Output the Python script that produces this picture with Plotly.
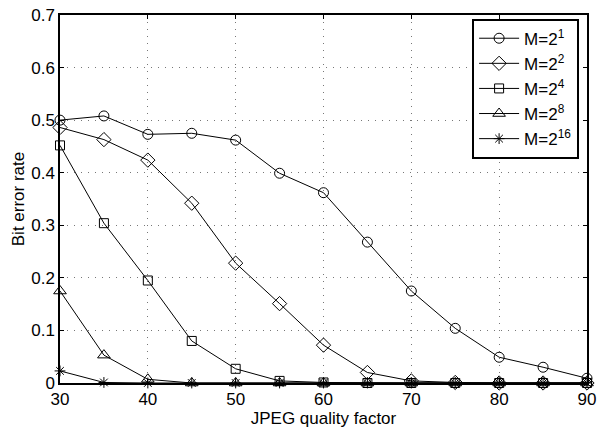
import plotly.graph_objects as go

quality = [30, 35, 40, 45, 50, 55, 60, 65, 70, 75, 80, 85, 90]

ber_m2 = [0.500, 0.508, 0.473, 0.475, 0.462, 0.399, 0.362, 0.268, 0.175, 0.104, 0.049, 0.030, 0.009]
ber_m4 = [0.486, 0.463, 0.424, 0.342, 0.228, 0.151, 0.072, 0.020, 0.004, 0.001, 0.000, 0.000, 0.000]
ber_m16 = [0.452, 0.304, 0.195, 0.080, 0.027, 0.004, 0.001, 0.000, 0.000, 0.000, 0.000, 0.000, 0.000]
ber_m256 = [0.175, 0.053, 0.007, 0.000, 0.000, 0.000, 0.000, 0.000, 0.000, 0.000, 0.000, 0.000, 0.000]
ber_m65536 = [0.023, 0.001, 0.000, 0.000, 0.000, 0.000, 0.000, 0.000, 0.000, 0.000, 0.000, 0.000, 0.000]

series = [
    ("M=2<sup>1</sup>", ber_m2, "circle-open", 10),
    ("M=2<sup>2</sup>", ber_m4, "diamond-open", 11),
    ("M=2<sup>4</sup>", ber_m16, "square-open", 9),
    ("M=2<sup>8</sup>", ber_m256, "triangle-up-open", 11),
    ("M=2<sup>16</sup>", ber_m65536, "asterisk-open", 9),
]

x_ticks = [30, 40, 50, 60, 70, 80, 90]
y_ticks = [0, 0.1, 0.2, 0.3, 0.4, 0.5, 0.6, 0.7]
y_tick_text = ["0", "0.1", "0.2", "0.3", "0.4", "0.5", "0.6", "0.7"]

fig = go.Figure()
for name, vals, sym, size in series:
    fig.add_trace(go.Scatter(
        x=quality, y=vals, name=name, mode="lines+markers",
        line=dict(color="black", width=1),
        marker=dict(symbol=sym, size=size, color="black", line=dict(width=1, color="black")),
        cliponaxis=False,
    ))

font = "Liberation Sans, Arial, Helvetica, sans-serif"
tick_font = dict(size=17, color="black", family=font)
axis_common = dict(
    showline=True, linecolor="black", linewidth=1.5, mirror="ticks",
    ticks="inside", ticklen=4, tickcolor="black",
    showgrid=True, gridcolor="#777", gridwidth=1, griddash="1px,6px",
    zeroline=False, tickfont=tick_font, automargin=False,
)

fig.update_xaxes(range=[30, 90], tickvals=x_ticks,
                 title=dict(text="JPEG quality factor", font=tick_font, standoff=4),
                 **axis_common)
fig.update_yaxes(range=[0, 0.7], tickvals=y_ticks, ticktext=y_tick_text,
                 title=dict(text="Bit error rate", font=tick_font, standoff=2),
                 **axis_common)

fig.update_layout(
    width=600, height=432,
    margin=dict(l=60, r=13, t=15, b=49),
    paper_bgcolor="white", plot_bgcolor="white",
    font=dict(family=font, color="black"),
    showlegend=True,
    legend=dict(
        x=0.985, y=0.99, xanchor="right", yanchor="top",
        bgcolor="white", bordercolor="black", borderwidth=2,
        font=dict(size=17, color="black", family=font),
        tracegroupgap=0, itemwidth=40,
    ),
)

fig.write_html("out.html")
